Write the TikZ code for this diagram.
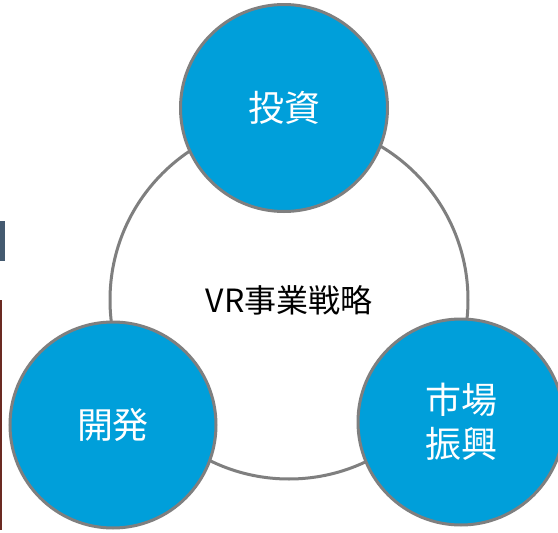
\documentclass[tikz,border=0pt]{standalone}
\usepackage{fontspec}
\newfontfamily\cjk{Noto Sans CJK JP}
\definecolor{cblue}{HTML}{009FDA}
\definecolor{cgray}{HTML}{7F7F7F}
\definecolor{barblue}{HTML}{445A70}
\definecolor{barred}{HTML}{6B2A22}
\tikzset{
  ring/.style={circle, draw=cgray, line width=3pt, fill=white, inner sep=0pt},
  bubble/.style={circle, draw=cgray, line width=3pt, fill=cblue, inner sep=0pt,
    text=white, font=\cjk\fontsize{36}{44}\selectfont, align=center},
}
\begin{document}
\begin{tikzpicture}[x=1pt,y=-1pt]
\useasboundingbox (0,0) rectangle (558,533);
\fill[white] (0,0) rectangle (558,533);
\fill[barblue] (0,221) rectangle (5,261);
\fill[barred] (0,300) rectangle (2,530);
\node[ring, minimum size=358pt] (core) at (289,300) {};
\node[font=\cjk\fontsize{32}{38}\selectfont] (corelabel) at (289,300) {VR事業戦略};
\node[bubble, minimum size=207pt] (invest) at (284,108) {投資};
\node[bubble, minimum size=206pt] (dev) at (113,425) {開発};
\node[bubble, minimum size=206pt] (market) at (461,422) {市場\\振興};
\end{tikzpicture}
\end{document}
